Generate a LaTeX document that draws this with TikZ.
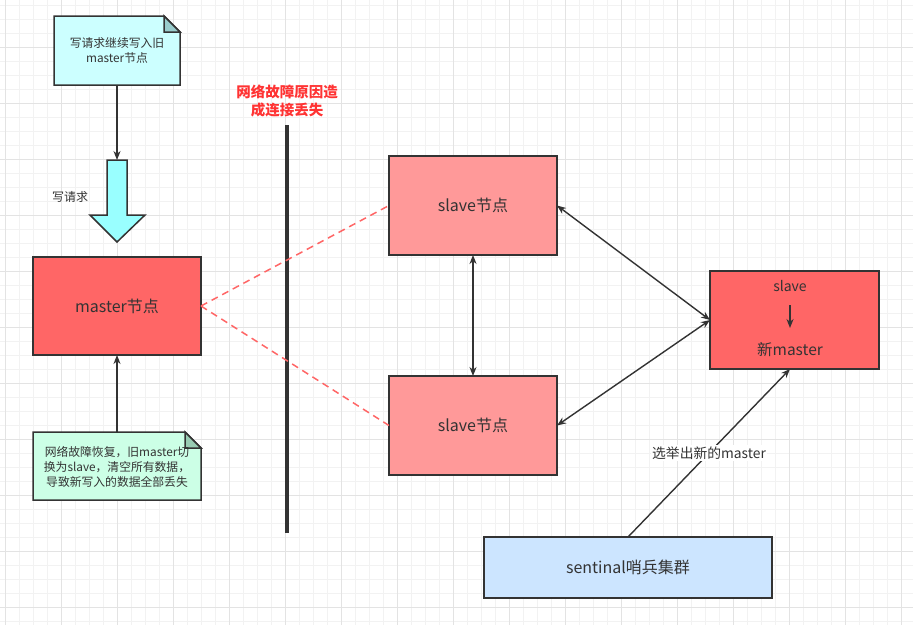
\documentclass[tikz,border=0pt]{standalone}
\usepackage{fontspec}
\setmainfont{Noto Sans CJK SC}
\usetikzlibrary{arrows.meta,calc}
\definecolor{ink}{HTML}{333333}
\definecolor{gridminor}{HTML}{F2F2F2}
\definecolor{gridmajor}{HTML}{E3E3E3}
\definecolor{masterfill}{HTML}{FF6666}
\definecolor{slavefill}{HTML}{FF9999}
\definecolor{cyanfill}{HTML}{CCFFFF}
\definecolor{cyanfold}{HTML}{99CCCC}
\definecolor{greenfill}{HTML}{CCFFE6}
\definecolor{greenfold}{HTML}{99CCB3}
\definecolor{arrowfill}{HTML}{99FFFF}
\definecolor{bluefill}{HTML}{CCE5FF}
\definecolor{warnred}{HTML}{FF3333}
\definecolor{dashred}{HTML}{FF6666}
\tikzset{
  box/.style={draw=ink, line width=1.5pt, rectangle, inner sep=0pt, outer sep=0pt, text=ink, font=\fontsize{16}{19}\selectfont},
  notebox/.style={rectangle, inner sep=0pt, outer sep=0pt, text=ink, align=center, font=\fontsize{11.8}{15}\selectfont},
  notedraw/.style={draw=ink, line width=1.5pt, line join=miter},
  conn/.style={draw=ink, line width=1.4pt, -{Stealth[length=9pt,width=7pt]}},
  biconn/.style={draw=ink, line width=1.4pt, {Stealth[length=9pt,width=7pt]}-{Stealth[length=9pt,width=7pt]}},
  lost/.style={draw=dashred, line width=1.5pt, dash pattern=on 7pt off 5pt},
  plain/.style={text=ink, inner sep=1pt, font=\fontsize{12}{15}\selectfont},
}
\begin{document}
\begin{tikzpicture}[x=1pt,y=-1pt]
\useasboundingbox (0,0) rectangle (913,625);
\fill[white] (0,0) rectangle (913,625);
% grid
\foreach \g in {5,19,...,913} {\draw[gridminor, line width=0.8pt] (\g,0) -- (\g,625);}
\foreach \g in {5,19,...,625} {\draw[gridminor, line width=0.8pt] (0,\g) -- (913,\g);}
\foreach \g in {5,61,...,913} {\draw[gridmajor, line width=0.8pt] (\g,0) -- (\g,625);}
\foreach \g in {47,103,...,625} {\draw[gridmajor, line width=0.8pt] (0,\g) -- (913,\g);}

% note 1
\node[notebox, minimum width=126pt, minimum height=69pt] (n1) at (117,50.5) {};
\draw[notedraw, fill=cyanfill] (n1.north west) -- ($(n1.north east)+(-16,0)$) -- ($(n1.north east)+(0,16)$) -- (n1.south east) -- (n1.south west) -- cycle;
\draw[notedraw, fill=cyanfold] ($(n1.north east)+(-16,0)$) -- ($(n1.north east)+(-16,16)$) -- ($(n1.north east)+(0,16)$) -- cycle;
\node[notebox] at (n1.center) {写请求继续写入旧\\master节点};

% block arrow
\coordinate (bt) at (117,160);
\draw[draw=ink, line width=1.5pt, fill=arrowfill, line join=miter] (107,160) -- (127,160) -- (127,215) -- (145,215) -- (117,242) -- (90,215) -- (107,215) -- cycle;
\node[plain] (wlabel) at (70,197) {写请求};
\draw[conn] (n1.south) -- (bt);

% master
\node[box, fill=masterfill, minimum width=168pt, minimum height=98pt] (master) at (117,306) {master节点};

% note 2
\node[notebox, minimum width=168pt, minimum height=68pt] (n2) at (117,466) {};
\draw[notedraw, fill=greenfill] (n2.north west) -- ($(n2.north east)+(-16,0)$) -- ($(n2.north east)+(0,16)$) -- (n2.south east) -- (n2.south west) -- cycle;
\draw[notedraw, fill=greenfold] ($(n2.north east)+(-16,0)$) -- ($(n2.north east)+(-16,16)$) -- ($(n2.north east)+(0,16)$) -- cycle;
\node[notebox] at ($(n2.center)+(0,1)$) {网络故障恢复，旧master切\\换为slave，清空所有数据，\\导致新写入的数据全部丢失};
\draw[conn] (n2.north) -- (master.south);

% partition
\node[text=warnred, align=center, inner sep=0pt, font=\fontsize{14.5}{18}\selectfont\bfseries] (warn) at (287,101) {网络故障原因造\\成连接丢失};
\coordinate (wallTop) at (287,125);
\coordinate (wallBot) at (287,533);
\draw[ink, line width=4pt] (wallTop) -- (wallBot);

% slaves
\node[box, fill=slavefill, minimum width=168pt, minimum height=99pt] (s1) at (473,205.5) {slave节点};
\node[box, fill=slavefill, minimum width=168pt, minimum height=99pt] (s2) at (473,425.5) {slave节点};

\draw[lost] (master.east) -- (s1.west);
\draw[lost] (master.east) -- (s2.west);
\draw[biconn] (s1.south) -- (s2.north);

% new master
\node[box, fill=masterfill, minimum width=169pt, minimum height=98pt] (nm) at (794.5,320) {};
\node[text=ink, inner sep=0pt, font=\fontsize{14}{17}\selectfont] (nmTop) at (790,286) {slave};
\node[text=ink, inner sep=0pt, font=\fontsize{15.5}{18}\selectfont] (nmBot) at (790,350) {新master};
\coordinate (nmA) at (790,305);
\coordinate (nmB) at (790,328);
\draw[conn] (nmA) -- (nmB);

\draw[biconn] (s1.east) -- (nm.west);
\draw[biconn] (s2.east) -- (nm.west);

% sentinel
\node[box, fill=bluefill, minimum width=288pt, minimum height=61pt] (sent) at (628,567.5) {sentinal哨兵集群};
\draw[conn] (sent.north) -- node[fill=white, text=ink, inner sep=1.5pt, font=\fontsize{13.8}{16}\selectfont] {选举出新的master} ($(nm.south)+(-4.5,0)$);
\end{tikzpicture}
\end{document}
